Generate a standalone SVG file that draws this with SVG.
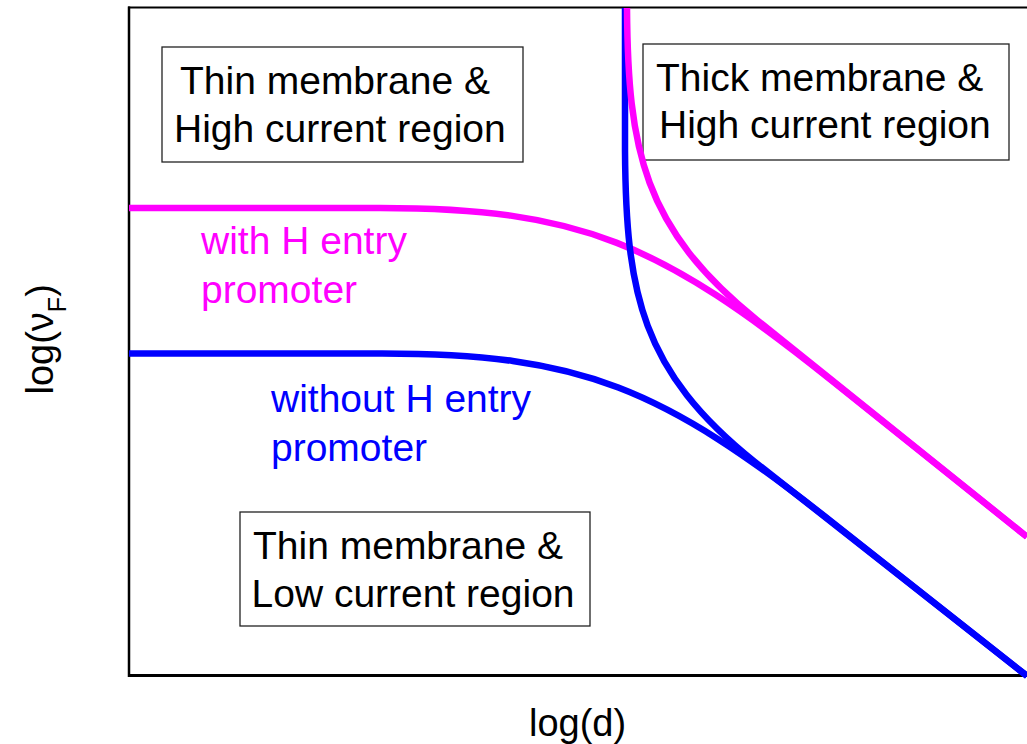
<svg xmlns="http://www.w3.org/2000/svg" width="1027" height="744" viewBox="0 0 1027 744">
<style>
.box{fill:#fff;stroke:#222;stroke-width:1.3}
.t{font-family:"Liberation Sans",Arial,sans-serif;font-size:39px;fill:#000}
.ax{font-family:"Liberation Sans",Arial,sans-serif;font-size:38px;fill:#000}
.cur{fill:none;stroke-width:6.5;stroke-linejoin:round}
.mg{stroke:#ff00ff}
.bl{stroke:#0000ff}
.axis{stroke:#000;fill:none}
</style>
<rect width="1027" height="744" fill="#fff"/>
<g id="axes">
<line class="axis" x1="128" y1="7.5" x2="1027" y2="7.5" stroke-width="2"/>
<line class="axis" x1="129" y1="6.5" x2="129" y2="677" stroke-width="2.5"/>
<line class="axis" x1="128" y1="675.5" x2="1027" y2="675.5" stroke-width="3"/>
<text class="ax" x="529" y="736">log(d)</text>
<text class="ax" transform="translate(53,394.5) rotate(-90)">log(ν<tspan font-size="25" dy="13">F</tspan><tspan dy="-13">)</tspan></text>
</g>
<g id="region-thin-high">
<rect class="box" x="162" y="47" width="361" height="115"/>
<text class="t" x="180" y="94">Thin membrane &amp;</text>
<text class="t" x="174" y="141.5">High current region</text>
</g>
<g id="region-thick-high">
<rect class="box" x="643" y="44" width="366" height="116"/>
<text class="t" x="656" y="90.5">Thick membrane &amp;</text>
<text class="t" x="659" y="138">High current region</text>
</g>
<g id="region-thin-low">
<rect class="box" x="240" y="512" width="350" height="114"/>
<text class="t" x="253" y="559">Thin membrane &amp;</text>
<text class="t" x="251.5" y="606.5">Low current region</text>
</g>
<g id="curves">
<path class="cur mg" d="M129,208 L380,208 C580,208 660,243.2 830,379.2 L1027,536.8"/>
<path class="cur bl" d="M129,353.5 L382,353.5 C582,353.5 662,388 832,522 L1027,676"/>
<path class="cur bl" d="M625,8 L625,151 C626,293 641,371 755,462 L1027,676"/>
<path class="cur mg" d="M627,8 C628,150 643,228 757,320 L1027,536.8"/>
</g>
<g id="label-with">
<text class="t" x="201" y="254" style="fill:#ff00ff">with H entry</text>
<text class="t" x="201" y="302.5" style="fill:#ff00ff">promoter</text>
</g>
<g id="label-without">
<text class="t" x="271" y="412" style="fill:#0000ff">without H entry</text>
<text class="t" x="271" y="460.5" style="fill:#0000ff">promoter</text>
</g>
</svg>
